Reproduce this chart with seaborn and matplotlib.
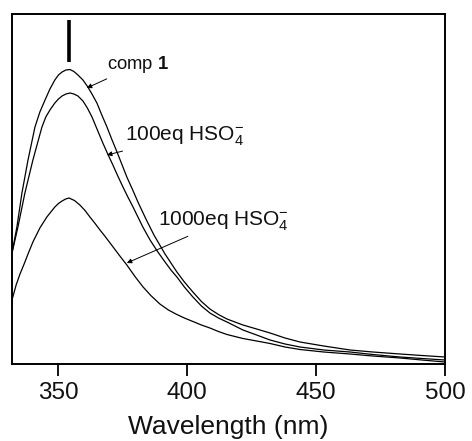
import numpy as np
import pandas as pd
import matplotlib
matplotlib.use("Agg")
import matplotlib.pyplot as plt
import seaborn as sns

# ---- data (intensity in arbitrary units) ----
comp1_wl = [332.2, 334.1, 336.05, 338.4, 341.1, 343.0, 345.0, 346.9, 348.8, 350.2,
            351.6, 353.1, 354.65, 356.2, 357.75, 359.7, 361.6, 363.4, 365.1, 367.0,
            369.0, 370.9, 372.9, 374.8, 376.7, 378.9, 381.0, 384.1, 387.2, 391.5,
            396.1, 399.0, 402.3, 405.6, 408.9, 412.2, 415.5, 418.6, 421.7, 427.0,
            432.2, 438.0, 443.8, 453.0, 463.2, 472.0, 482.6, 491.0, 500.0]
comp1_int = [111, 137, 171, 204, 237, 252, 264, 275, 284, 289,
             292, 294, 294.5, 292.5, 289, 284, 277, 269, 261, 249,
             237, 224.5, 212, 199.5, 187, 174.5, 162, 145, 129, 110,
             92, 82, 72, 62.5, 55, 49.5, 45, 42, 39, 35,
             31, 26, 22, 18, 14, 12, 10, 8.5, 7]

eq100_wl = [332.2, 334.5, 337.2, 340.3, 343.8, 345.3, 346.9, 348.8, 350.2, 351.6,
            353.1, 354.65, 356.2, 357.75, 359.7, 361.4, 363.2, 365.3, 367.4, 369.3,
            371.3, 373.2, 375.2, 377.1, 379.1, 381.0, 382.9, 385.7, 388.6, 391.5,
            393.8, 396.1, 399.0, 402.3, 405.6, 408.9, 412.2, 415.5, 418.6, 421.7,
            427.0, 432.2, 438.0, 443.8, 453.0, 463.2, 472.0, 482.6, 491.0, 500.0]
eq100_int = [111, 137, 171, 204, 237, 247, 254, 261, 265, 268,
             270, 271, 270, 268, 263, 256, 247, 234, 221, 210,
             199, 188, 177, 167, 157, 147, 137, 124, 112.5, 102,
             94, 87, 77, 67, 58, 51, 46, 42, 38, 34,
             29, 24, 20, 17, 14, 12, 9.5, 7, 5.5, 4]

eq1000_wl = [332.2, 333.8, 335.3, 336.9, 338.4, 340.3, 343.0, 345.7, 348.8, 350.2,
             351.6, 353.0, 354.3, 356.4, 358.5, 360.5, 362.4, 364.4, 366.3, 368.3,
             370.2, 372.1, 374.0, 376.7, 380.0, 383.0, 386.0, 389.5, 392.8, 396.1,
             399.0, 402.3, 405.6, 408.9, 412.2, 415.5, 418.6, 421.7, 427.0, 432.2,
             438.0, 443.8, 453.0, 463.2, 472.0, 482.6, 491.0, 500.0]
eq1000_int = [64, 79, 90, 100, 110, 122, 136, 147, 157, 160.5,
              163, 165, 166, 163.5, 159, 153.5, 147, 140.5, 134, 127.5,
              121, 114.5, 108, 99, 87, 77, 68.5, 60, 54, 49.5,
              46, 42.5, 39, 36, 32.5, 29.5, 27.5, 25.5, 23, 20.5,
              17, 14.5, 12, 10, 8, 6, 4, 2]

series_names = ["comp 1", "100eq", "1000eq"]
x_ticks = [350, 400, 450, 500]
x_label = "Wavelength (nm)"

# annotation labels and anchors (text baseline position, arrow tip)
labels = [r"comp $\mathbf{1}$", r"100eq HSO$_4^{-}$", r"1000eq HSO$_4^{-}$"]
label_sizes = [13.3, 15, 15]
label_text_pos = [(369.0, 295), (375.8, 224), (388.8, 139)]
label_tip_pos = [(361.2, 276), (369.0, 209), (376.7, 101)]

peak_marker_wl = 354.3
peak_marker_range = (302, 344)

# ---- build long table ----
frames = []
for name, wl, it in zip(series_names,
                        [comp1_wl, eq100_wl, eq1000_wl],
                        [comp1_int, eq100_int, eq1000_int]):
    frames.append(pd.DataFrame({"wl": wl, "intensity": it, "series": name}))
df = pd.concat(frames, ignore_index=True)

sns.set_theme(style="white")
plt.rcParams["font.family"] = ["Liberation Sans", "DejaVu Sans"]
plt.rcParams["mathtext.fontset"] = "custom"
plt.rcParams["mathtext.rm"] = "Liberation Sans"
plt.rcParams["mathtext.it"] = "Liberation Sans:italic"
plt.rcParams["mathtext.bf"] = "Liberation Sans:bold"

fig = plt.figure(figsize=(4.72, 4.41), dpi=100)
ax = fig.add_axes([12 / 472, (441 - 364) / 441, (445 - 12) / 472, (364 - 14) / 441])

sns.lineplot(data=df, x="wl", y="intensity", hue="series", units="series",
             estimator=None, sort=False, palette=["black"] * 3,
             linewidth=0.9, legend=False, ax=ax)

ax.vlines(peak_marker_wl, *peak_marker_range, color="black", linewidth=2.6)

for txt, fs, tpos, tip in zip(labels, label_sizes, label_text_pos, label_tip_pos):
    ax.annotate(txt, xy=tip, xytext=tpos, ha="left", va="baseline",
                fontsize=fs, color="#111111",
                arrowprops=dict(arrowstyle="-|>", color="black", lw=0.7,
                                mutation_scale=7, shrinkA=1, shrinkB=0))

ax.set_xlim(332.2, 500)
ax.set_ylim(0, 350)
ax.set_xticks(x_ticks)
ax.set_xticklabels([str(t) for t in x_ticks])
ax.set_yticks([])
ax.set_xlabel(x_label, fontsize=19, labelpad=8, color="#111111")
ax.set_ylabel("")
ax.tick_params(axis="x", direction="out", length=8.6, width=1.3,
               labelsize=17.5, pad=4.5, colors="black", labelcolor="#111111",
               bottom=True)
for s in ax.spines.values():
    s.set_visible(True)
    s.set_color("black")
    s.set_linewidth(1.4)

fig.savefig("out.png", dpi=100, facecolor="white")
